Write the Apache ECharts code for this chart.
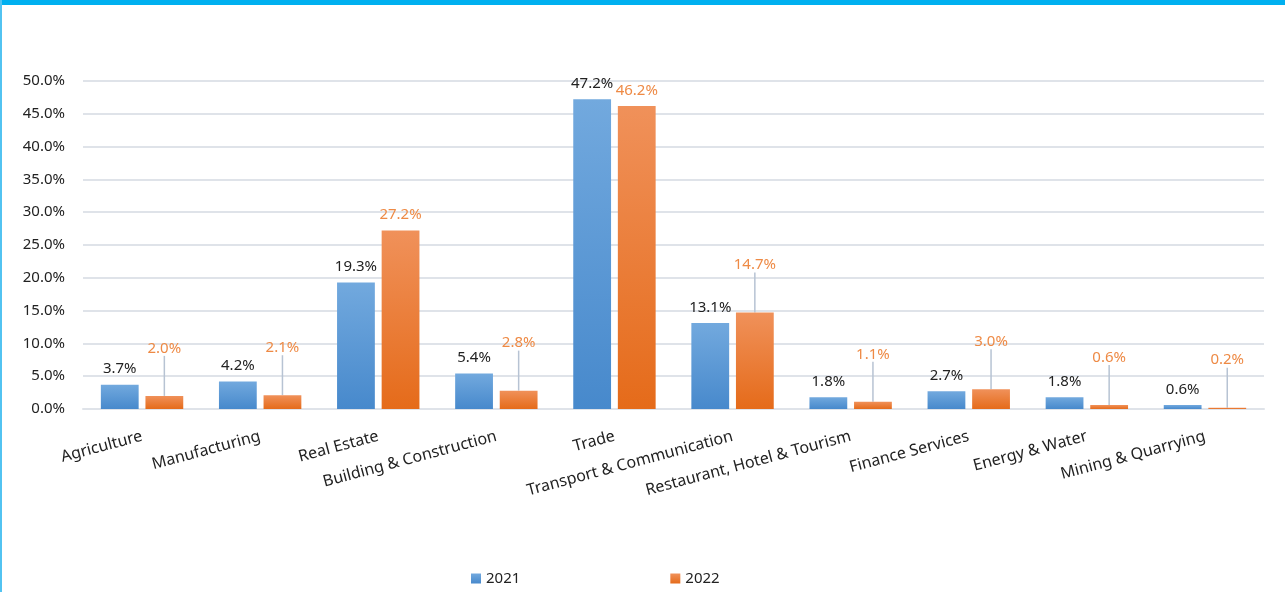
<!DOCTYPE html>
<html>
<head>
<meta charset="utf-8">
<script src="https://cdn.jsdelivr.net/npm/echarts@6/dist/echarts.min.js"></script>
<style>
  html, body { margin: 0; padding: 0; background: #fff; }
  #wrap { position: relative; width: 1285px; height: 592px; overflow: hidden; }
  #chart { position: absolute; left: 0; top: 0; width: 1285px; height: 592px; }
  #topbar { position: absolute; left: 0; top: 0; width: 1285px; height: 5px; background: #00b0f0; }
  #leftbar { position: absolute; left: 0; top: 0; width: 2px; height: 592px; background: #52c3f1; }
</style>
</head>
<body>
<div id="wrap">
  <div id="chart"></div>
  <div id="topbar"></div>
  <div id="leftbar"></div>
</div>
<script>
const categories = [
    "Agriculture", "Manufacturing", "Real Estate", "Building & Construction",
    "Trade", "Transport & Communication", "Restaurant, Hotel & Tourism",
    "Finance Services", "Energy & Water", "Mining & Quarrying"
]
const values2021 = [3.7, 4.2, 19.3, 5.4, 47.2, 13.1, 1.8, 2.7, 1.8, 0.6]
const values2022 = [2.0, 2.1, 27.2, 2.8, 46.2, 14.7, 1.1, 3.0, 0.6, 0.2]
const seriesNames = ["2021", "2022"]
const yTicks = { min: 0, max: 50, interval: 5 }

const font = '"Noto Sans", sans-serif'

function grad(top, bottom) {
    return new echarts.graphic.LinearGradient(0, 0, 0, 1, [
        { offset: 0, color: top },
        { offset: 1, color: bottom }
    ])
}

// tall bars keep their label right on top, the rest get a leader line
function lifted(i) {
    return values2022[i] < 20
}

let chart = echarts.init(document.getElementById("chart"), null, { renderer: "canvas" })

let option = {
    animation: false,
    textStyle: { fontFamily: font },
    grid: {
        left: 83,
        right: 21,
        top: 81,
        bottom: 183
    },
    legend: {
        data: seriesNames,
        left: 466,
        top: 566,
        itemWidth: 10,
        itemHeight: 10,
        itemGap: 150,
        icon: "rect",
        textStyle: { fontFamily: font, fontSize: 15, color: "#222" }
    },
    xAxis: {
        type: "category",
        data: categories,
        axisTick: { show: false },
        axisLine: { lineStyle: { color: "#dfe3e9", width: 2 } },
        axisLabel: {
            rotate: 15,
            margin: 27,
            interval: 0,
            fontFamily: font,
            fontSize: 16,
            color: "#222"
        }
    },
    yAxis: {
        type: "value",
        min: yTicks.min,
        max: yTicks.max,
        interval: yTicks.interval,
        axisLine: { show: false },
        axisTick: { show: false },
        splitLine: { lineStyle: { color: "#dfe3e9", width: 2 } },
        axisLabel: {
            margin: 18,
            fontFamily: font,
            fontSize: 15,
            color: "#222",
            formatter: v => v.toFixed(1) + "%"
        }
    },
    series: [
        {
            name: seriesNames[0],
            type: "bar",
            data: values2021,
            barWidth: "32%",
            barGap: "18%",
            itemStyle: { color: grad("#72a9de", "#4789cc") },
            label: {
                show: true,
                position: "top",
                distance: 8,
                fontFamily: font,
                fontSize: 15,
                color: "#222",
                formatter: p => p.value.toFixed(1) + "%"
            }
        },
        {
            name: seriesNames[1],
            type: "bar",
            data: values2022.map((v, i) => ({
                value: v,
                labelLine: { show: lifted(i) }
            })),
            barWidth: "32%",
            itemStyle: { color: grad("#f0915a", "#e56b1a") },
            label: {
                show: true,
                position: "top",
                distance: 8,
                fontFamily: font,
                fontSize: 15,
                color: "#ee8a45",
                formatter: p => p.value.toFixed(1) + "%"
            },
            labelLayout: function (params) {
                return lifted(params.dataIndex) ? { dy: -32 } : {}
            },
            labelLine: {
                show: true,
                lineStyle: { color: "#b7c3d3", width: 1.5 }
            }
        }
    ]
}

chart.setOption(option)
</script>
</body>
</html>
